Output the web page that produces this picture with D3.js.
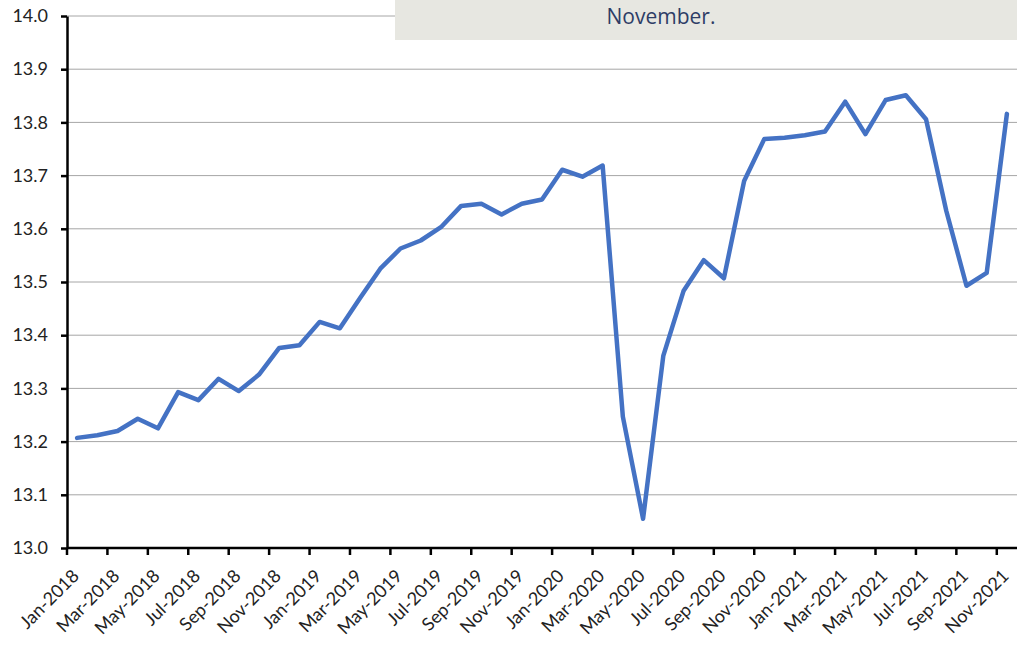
<!DOCTYPE html>
<html><head><meta charset="utf-8">
<script src="https://cdn.jsdelivr.net/npm/d3@7"></script>
<style>body{margin:0;background:#fff}svg{display:block}</style>
</head><body>
<svg id="c" width="1017" height="647"></svg>
<script>
const months = ["Jan","Feb","Mar","Apr","May","Jun","Jul","Aug","Sep","Oct","Nov","Dec"];
const categories = [];
for (let y = 2018; y <= 2021; y++) for (let m = 0; m < 12; m++) { if (y === 2021 && m > 10) break; categories.push(months[m] + "-" + y); }
const values = [
  13.207,13.212,13.220,13.243,13.225,13.293,13.278,13.318,13.295,13.326,13.376,13.381,
  13.425,13.413,13.470,13.525,13.563,13.578,13.603,13.643,13.647,13.627,13.647,13.655,
  13.711,13.698,13.719,13.247,13.055,13.361,13.483,13.541,13.507,13.690,13.769,13.771,
  13.776,13.783,13.839,13.778,13.842,13.851,13.806,13.634,13.493,13.517,13.816
];
const yTicks = [13.0,13.1,13.2,13.3,13.4,13.5,13.6,13.7,13.8,13.9,14.0];
const boxText = "November.";

const svg = d3.select("#c");
const L = 67, R = 1017, T = 16, B = 548;
const x = d3.scaleBand().domain(categories).range([L, R]).padding(0);
const y = d3.scaleLinear().domain([13.0, 14.0]).range([B, T]);

// gridlines
svg.append("g").selectAll("line").data(yTicks.filter(d => d > 13.0)).join("line")
  .attr("x1", L).attr("x2", R).attr("y1", d => y(d)).attr("y2", d => y(d))
  .attr("stroke", "#a6a6a6").attr("stroke-width", 1);

// line
const line = d3.line().x((d, i) => x(categories[i]) + x.bandwidth() / 2).y(d => y(d));
svg.append("path").datum(values).attr("d", line)
  .attr("fill", "none").attr("stroke", "#4472c4").attr("stroke-width", 4.5)
  .attr("stroke-linejoin", "round").attr("stroke-linecap", "round");

// y axis
const ya = svg.append("g").attr("transform", `translate(${L},0)`)
  .call(d3.axisLeft(y).tickValues(yTicks).tickFormat(d3.format(".1f")).tickSize(6).tickSizeOuter(0));
ya.select(".domain").attr("stroke", "#000").attr("stroke-width", 2.5);
ya.selectAll(".tick line").attr("stroke", "#000").attr("stroke-width", 2.5);
ya.selectAll(".tick text").attr("font-family", "Lato, sans-serif").attr("font-size", 18).attr("fill", "#222").attr("x", -19);

// x axis
const labelCats = categories.filter((d, i) => i % 2 === 0);
const xa = svg.append("g").attr("transform", `translate(0,${B})`);
xa.append("line").attr("x1", L).attr("x2", R).attr("stroke", "#000").attr("stroke-width", 2.5);
xa.selectAll("line.tk").data(labelCats).join("line").attr("class", "tk")
  .attr("x1", d => x(d)).attr("x2", d => x(d)).attr("y1", 0).attr("y2", 7)
  .attr("stroke", "#000").attr("stroke-width", 2.5);
xa.selectAll("text").data(labelCats).join("text")
  .attr("transform", d => `translate(${x(d) + x.bandwidth() / 2 + 3},${29}) rotate(-45)`)
  .attr("text-anchor", "end")
  .attr("font-family", "Lato, sans-serif").attr("font-size", 18).attr("fill", "#222")
  .text(d => d);

// top box
svg.append("rect").attr("x", 395).attr("y", 0).attr("width", 622).attr("height", 40).attr("fill", "#e7e7e1");
svg.append("text").attr("x", 661).attr("y", 24).attr("text-anchor", "middle")
  .attr("font-family", "'Open Sans', sans-serif").attr("font-size", 21).attr("fill", "#2e3d66")
  .text(boxText);
</script>
</body></html>
